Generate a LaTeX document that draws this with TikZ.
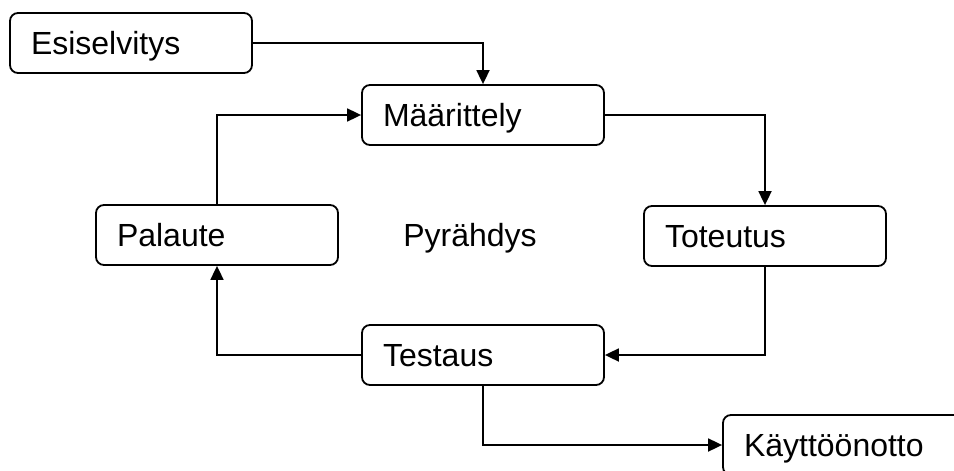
\documentclass[tikz,border=0pt]{standalone}
\usepackage{fontspec}
\setmainfont{Liberation Sans}
\usetikzlibrary{arrows.meta}
\begin{document}
\begin{tikzpicture}[x=1pt,y=-1pt,
  phase/.style={draw, line width=1.8pt, rounded corners=8pt,
    minimum height=60pt, text width=200pt, inner xsep=21pt, inner ysep=0pt,
    align=left, text height=23pt, text depth=0pt,
    font=\fontsize{32}{38}\selectfont},
  flow/.style={line width=1.8pt, -{Triangle[length=14pt,width=13pt]}}]
\useasboundingbox (0,0) rectangle (954,471);
\clip (0,0) rectangle (954,471);

% process phases
\node[phase] (es) at (131,43)  {Esiselvitys};
\node[phase] (ma) at (483,115) {Määrittely};
\node[phase] (to) at (765,236) {Toteutus};
\node[phase] (pa) at (217,235) {Palaute};
\node[phase] (te) at (483,355) {Testaus};
\node[phase] (ka) at (844,445) {Käyttöönotto};

% label in the middle of the cycle
\node[inner sep=0pt, text height=23pt, text depth=0pt,
  font=\fontsize{32}{38}\selectfont] (py) at (470,235) {Pyrähdys};

% flow between phases
\draw[flow] (es.east) -| (ma.north);
\draw[flow] (ma.east) -| (to.north);
\draw[flow] (to.south) |- (te.east);
\draw[flow] (te.west) -| (pa.south);
\draw[flow] (pa.north) |- (ma.west);
\draw[flow] (te.south) |- (ka.west);
\end{tikzpicture}
\end{document}
